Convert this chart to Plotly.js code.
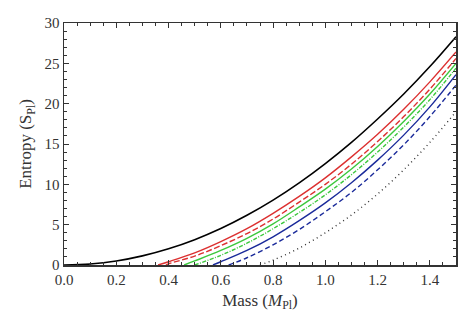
<!DOCTYPE html>
<html>
<head>
<meta charset="utf-8">
<script src="https://cdn.plot.ly/plotly-3.0.1.min.js"></script>
<style>html,body{margin:0;padding:0;background:#fff;}#chart{width:474px;height:324px;}</style>
</head>
<body>
<div id="chart"></div>
<script>
// Mass (M_Pl) and Entropy (S_Pl) readings for each curve
const blackSolidM = [0, 0.1, 0.2, 0.3, 0.4, 0.5, 0.6, 0.7, 0.8, 0.9, 1.0, 1.1, 1.2, 1.3, 1.4, 1.5];
const blackSolidS = [0, 0.13, 0.5, 1.13, 2.01, 3.14, 4.52, 6.16, 8.04, 10.18, 12.57, 15.2, 18.1, 21.2, 24.6, 28.3];

const redSolidM = [0.36, 0.4, 0.5, 0.6, 0.7, 0.8, 0.9, 1.0, 1.1, 1.2, 1.3, 1.4, 1.5];
const redSolidS = [0, 0.4, 1.5, 2.9, 4.5, 6.4, 8.5, 10.8, 13.4, 16.2, 19.3, 22.7, 26.4];

const redDashM = [0.39, 0.4, 0.5, 0.6, 0.7, 0.8, 0.9, 1.0, 1.1, 1.2, 1.3, 1.4, 1.5];
const redDashS = [0, 0.15, 1.1, 2.4, 3.9, 5.7, 7.8, 10.0, 12.5, 15.3, 18.4, 21.8, 25.6];

const greenSolidM = [0.46, 0.5, 0.6, 0.7, 0.8, 0.9, 1.0, 1.1, 1.2, 1.3, 1.4, 1.5];
const greenSolidS = [0, 0.5, 1.8, 3.3, 5.1, 7.2, 9.4, 11.9, 14.7, 17.8, 21.2, 25.0];

const greenDashM = [0.5, 0.6, 0.7, 0.8, 0.9, 1.0, 1.1, 1.2, 1.3, 1.4, 1.5];
const greenDashS = [0, 1.2, 2.7, 4.5, 6.5, 8.7, 11.2, 14.0, 17.1, 20.5, 24.4];

const blueSolidM = [0.57, 0.6, 0.7, 0.8, 0.9, 1.0, 1.1, 1.2, 1.3, 1.4, 1.5];
const blueSolidS = [0, 0.4, 1.8, 3.5, 5.5, 7.7, 10.2, 13.0, 16.1, 19.6, 23.6];

const blueDashM = [0.63, 0.7, 0.8, 0.9, 1.0, 1.1, 1.2, 1.3, 1.4, 1.5];
const blueDashS = [0, 0.9, 2.5, 4.4, 6.6, 9.0, 11.8, 14.9, 18.4, 22.3];

const blackDotM = [0.75, 0.8, 0.9, 1.0, 1.1, 1.2, 1.3, 1.4, 1.5];
const blackDotS = [0, 0.6, 2.1, 4.0, 6.2, 8.8, 11.8, 15.2, 19.0];

const xTickVals = [0.0, 0.2, 0.4, 0.6, 0.8, 1.0, 1.2, 1.4];
const yTickVals = [0, 5, 10, 15, 20, 25, 30];

function tr(x, y, color, dash, width) {
  return {x: x, y: y, type: 'scatter', mode: 'lines',
    line: {color: color, width: width || 1.4, dash: dash, shape: 'spline', smoothing: 1},
    showlegend: false, hoverinfo: 'skip'};
}

const traces = [
  tr(blackDotM, blackDotS, '#333333', '1px,3.5px'),
  tr(blueDashM, blueDashS, '#1a2a9a', '5px,3px'),
  tr(blueSolidM, blueSolidS, '#1a2a9a', 'solid'),
  tr(greenDashM, greenDashS, '#3cc83c', '4px,1.5px,1px,1.5px'),
  tr(greenSolidM, greenSolidS, '#3cc83c', 'solid'),
  tr(redDashM, redDashS, '#dc3030', '6px,2.5px'),
  tr(redSolidM, redSolidS, '#dc3030', 'solid'),
  tr(blackSolidM, blackSolidS, '#000000', 'solid', 1.6)
];

const fontFam = '"Liberation Serif", "DejaVu Serif", serif';
const axisCommon = {
  showgrid: false, zeroline: false,
  showline: true, linecolor: '#333', linewidth: 1.5, mirror: 'allticks',
  ticks: 'inside', ticklen: 5, tickwidth: 1, tickcolor: '#333',
  tickfont: {family: fontFam, size: 15, color: '#333'}
};

const layout = {
  width: 474, height: 324,
  margin: {l: 64, r: 18, t: 23, b: 59},
  paper_bgcolor: '#fff', plot_bgcolor: '#fff',
  xaxis: Object.assign({}, axisCommon, {
    range: [0, 1.5], tickvals: xTickVals, tickformat: '.1f',
    minor: {dtick: 0.05, tick0: 0, ticks: 'inside', ticklen: 3, tickcolor: '#333'},
    title: {text: 'Mass (<i>M</i><sub>Pl</sub>)', font: {family: fontFam, size: 17, color: '#333'}, standoff: 7}
  }),
  yaxis: Object.assign({}, axisCommon, {
    range: [0, 30], tickvals: yTickVals,
    minor: {dtick: 1, tick0: 0, ticks: 'inside', ticklen: 3, tickcolor: '#333'},
    title: {text: 'Entropy (S<sub>Pl</sub>)', font: {family: fontFam, size: 17, color: '#333'}, standoff: 8}
  })
};

Plotly.newPlot('chart', traces, layout, {staticPlot: true, displayModeBar: false});
</script>
</body>
</html>
